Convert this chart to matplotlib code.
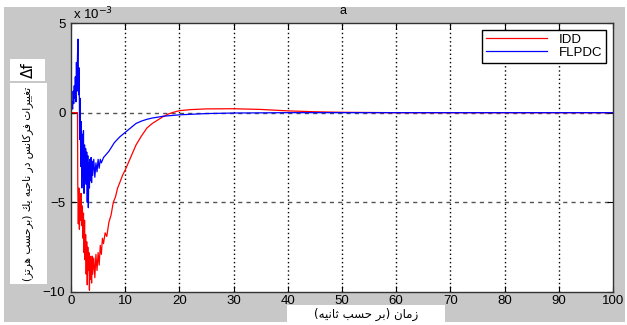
import matplotlib
matplotlib.use("Agg")
import matplotlib.pyplot as plt
from matplotlib.patches import Rectangle

plt.rcParams['font.family'] = ['Liberation Sans', 'DejaVu Sans']

# time (s) and deviation (x 1e-3 Hz)
t_idd = [0, 1.0, 1.2, 1.25, 1.35, 1.45, 1.55, 1.65, 1.75, 1.85, 1.95, 2.1, 2.2, 2.3, 2.4,
         2.5, 2.6, 2.7, 2.8, 2.9, 3.0, 3.1, 3.2, 3.3, 3.4, 3.5, 3.6, 3.7, 3.8, 3.9, 4.0,
         4.2, 4.4, 4.6, 4.8, 5.0, 5.2, 5.4, 5.6, 5.8, 6.0, 6.3, 6.6, 7.0, 7.4, 7.8, 8.2,
         8.6, 9.0, 9.5, 10, 11, 12, 13, 14, 15, 16, 17, 18, 19, 20, 22, 25, 30, 35, 40,
         45, 50, 60, 100]
idd = [0, 0, 0, -4.0, -6.2, -4.2, -6.5, -4.8, -6.0, -4.5, -6.3, -5.2, -7.0, -5.6, -7.8,
       -6.0, -8.2, -6.8, -9.0, -7.2, -9.6, -7.5, -8.8, -7.8, -9.9, -8.0, -9.3, -8.2, -9.5,
       -8.0, -9.0, -8.1, -9.2, -7.9, -8.8, -7.8, -8.5, -7.4, -7.9, -7.0, -7.3, -6.7, -6.9,
       -6.1, -5.7, -5.0, -4.7, -4.2, -3.9, -3.5, -3.2, -2.5, -1.8, -1.3, -0.86, -0.6,
       -0.41, -0.22, -0.07, 0.03, 0.11, 0.17, 0.21, 0.22, 0.18, 0.1, 0.05, 0.02, 0, 0]

t_flpdc = [0, 0.2, 0.3, 0.4, 0.5, 0.6, 0.7, 0.8, 0.9, 1.0, 1.1, 1.2, 1.3, 1.4, 1.5, 1.6,
           1.7, 1.8, 1.9, 2.0, 2.1, 2.2, 2.3, 2.4, 2.5, 2.6, 2.7, 2.8, 2.9, 3.0, 3.1, 3.2,
           3.3, 3.4, 3.5, 3.6, 3.7, 3.8, 3.9, 4.0, 4.2, 4.4, 4.6, 4.8, 5.0, 5.2, 5.4, 5.6,
           6.0, 7, 8, 9, 10, 11, 12, 13, 14, 15, 17, 20, 25, 30, 40, 100]
flpdc = [0, 0.6, 0.2, 1.2, 0.5, 1.5, 0.8, 2.0, 0.6, 2.8, 1.2, 3.2, 4.1, 1.0, 2.5, -1.5,
         0.8, -3.0, -0.5, -4.2, -1.2, -3.6, -1.0, -4.5, -1.8, -3.8, -2.0, -4.0, -2.2, -5.0,
         -2.4, -5.3, -2.8, -4.2, -2.6, -3.8, -2.5, -3.9, -2.7, -3.5, -2.6, -3.6, -2.8,
         -3.3, -2.6, -3.1, -2.6, -2.8, -2.5, -2.15, -1.67, -1.35, -1.1, -0.85, -0.6, -0.47,
         -0.37, -0.3, -0.2, -0.12, -0.05, -0.02, 0, 0]

x_ticks = list(range(0, 101, 10))
y_ticks = [-10, -5, 0, 5]

ylabel_fa = "تغييرات فركانس در ناحيه يك (برحسب هرتز)"
xlabel_fa = "زمان (بر حسب ثانيه)"

FORMS = {
    'ا': ('\uFE8D', '\uFE8E', None, None),
    'ب': ('\uFE8F', '\uFE90', '\uFE91', '\uFE92'),
    'ت': ('\uFE95', '\uFE96', '\uFE97', '\uFE98'),
    'ث': ('\uFE99', '\uFE9A', '\uFE9B', '\uFE9C'),
    'ح': ('\uFEA1', '\uFEA2', '\uFEA3', '\uFEA4'),
    'د': ('\uFEA9', '\uFEAA', None, None),
    'ر': ('\uFEAD', '\uFEAE', None, None),
    'ز': ('\uFEAF', '\uFEB0', None, None),
    'س': ('\uFEB1', '\uFEB2', '\uFEB3', '\uFEB4'),
    'غ': ('\uFECD', '\uFECE', '\uFECF', '\uFED0'),
    'ف': ('\uFED1', '\uFED2', '\uFED3', '\uFED4'),
    'ك': ('\uFED9', '\uFEDA', '\uFEDB', '\uFEDC'),
    'م': ('\uFEE1', '\uFEE2', '\uFEE3', '\uFEE4'),
    'ن': ('\uFEE5', '\uFEE6', '\uFEE7', '\uFEE8'),
    'ه': ('\uFEE9', '\uFEEA', '\uFEEB', '\uFEEC'),
    'ي': ('\uFEF1', '\uFEF2', '\uFEF3', '\uFEF4'),
}


def shape(s):
    # poor man's arabic shaping + reorder, matplotlib has no bidi
    out = []
    for i, c in enumerate(s):
        if c not in FORMS:
            out.append({'(': ')', ')': '('}.get(c, c))
            continue
        prev = s[i - 1] if i > 0 else ''
        nxt = s[i + 1] if i + 1 < len(s) else ''
        jp = prev in FORMS and FORMS[prev][2] is not None
        jn = FORMS[c][2] is not None and nxt in FORMS
        iso, fin, ini, med = FORMS[c]
        if jp and jn:
            out.append(med)
        elif jp:
            out.append(fin)
        elif jn:
            out.append(ini)
        else:
            out.append(iso)
    return ''.join(out[::-1])


W, H = 627, 325
fig = plt.figure(figsize=(W / 100, H / 100), dpi=100)


def fx(px):
    return px / W


def fy(py):
    return 1 - py / H


fig.add_artist(Rectangle((fx(4), fy(322)), fx(621), (315) / H, transform=fig.transFigure,
                         facecolor='#c8c8c8', edgecolor='none', zorder=0))

ax = fig.add_axes([fx(71), fy(292), fx(613) - fx(71), (292 - 23) / H])
ax.plot(t_idd, idd, color='#ff0000', lw=0.9, label='IDD')
ax.plot(t_flpdc, flpdc, color='#0000ff', lw=0.9, label='FLPDC')
ax.set_xlim(0, 100)
ax.set_ylim(-10, 5)
ax.set_xticks(x_ticks)
ax.set_yticks(y_ticks)
ax.tick_params(direction='in', top=True, right=True, length=4, labelsize=9.5)
ax.tick_params(axis='x', pad=2)
ax.tick_params(axis='y', pad=4)
for sp in ax.spines.values():
    sp.set_color('#333333')
    sp.set_linewidth(1.0)
for x in x_ticks[1:-1]:
    ax.axvline(x, color='black', lw=1, ls=(0, (1, 2)), zorder=0.5)
for y in [0, -5]:
    ax.axhline(y, color='#555555', lw=1, ls=(0, (3, 3)), zorder=0.5)

leg = ax.legend(loc='upper right', fontsize=9.5, fancybox=False, framealpha=1,
                edgecolor='black', borderaxespad=0.5, handlelength=4.6, labelspacing=0.05,
                borderpad=0.3, handletextpad=0.9)
leg.get_frame().set_linewidth(1.0)

fig.text(fx(73), fy(14), 'x 10$^{-3}$', fontsize=9.5, ha='left', va='center')
fig.text(fx(343), fy(11), 'a', fontsize=9, ha='center', va='center')

# white label boxes from the original screenshot
fig.add_artist(Rectangle((fx(10), fy(81)), fx(35), 22 / H, transform=fig.transFigure,
                         facecolor='white', edgecolor='none'))
fig.text(fx(28), fy(70), 'Δf', fontsize=11, rotation=90, ha='center', va='center',
         family=['DejaVu Sans'])
fig.add_artist(Rectangle((fx(10), fy(284)), fx(37), 201 / H, transform=fig.transFigure,
                         facecolor='white', edgecolor='none'))
fig.text(fx(28), fy(184), shape(ylabel_fa), fontsize=7.6, rotation=90, ha='center',
         va='center', family=['DejaVu Sans'])
fig.add_artist(Rectangle((fx(287), fy(322)), fx(158), 17 / H, transform=fig.transFigure,
                         facecolor='white', edgecolor='none'))
fig.text(fx(366), fy(314), shape(xlabel_fa), fontsize=8.5, ha='center', va='center',
         family=['DejaVu Sans'])

fig.savefig('out.png', dpi=100)
